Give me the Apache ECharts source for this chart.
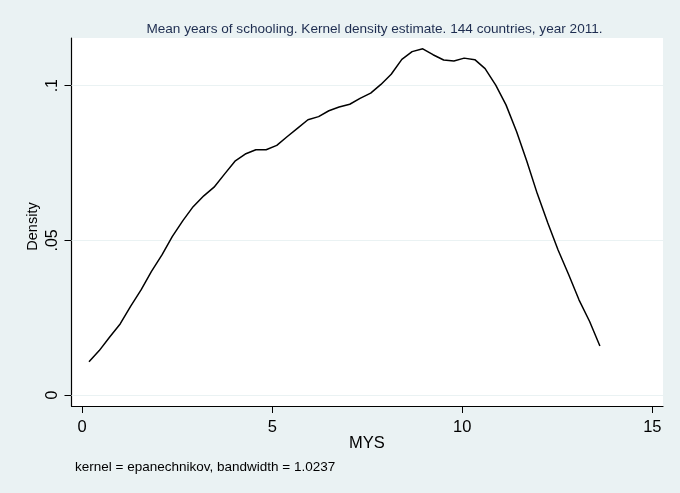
<!DOCTYPE html>
<html>
<head>
<meta charset="utf-8">
<script src="https://cdn.jsdelivr.net/npm/echarts@6/dist/echarts.min.js"></script>
<style>
html,body{margin:0;padding:0;background:#EAF2F3;}
#c{width:680px;height:493px;}
</style>
</head>
<body>
<div id="c"></div>
<script>
// Mean years of schooling (MYS) grid points
const mys = [0.18,0.45,0.73,1.00,1.27,1.55,1.82,2.10,2.37,2.65,
             2.92,3.20,3.47,3.75,4.02,4.29,4.57,4.84,5.12,5.39,
             5.67,5.94,6.22,6.49,6.76,7.04,7.31,7.59,7.86,8.13,
             8.41,8.68,8.96,9.23,9.51,9.78,10.05,10.33,10.60,10.88,
             11.15,11.43,11.70,11.97,12.25,12.52,12.80,13.07,13.35,13.62];
// Kernel density estimate
const density = [0.0108,0.0144,0.0189,0.0230,0.0286,0.0340,0.0399,0.0453,0.0512,0.0564,
                 0.0609,0.0644,0.0672,0.0715,0.0756,0.0779,0.0793,0.0793,0.0807,0.0835,
                 0.0863,0.0890,0.0900,0.0919,0.0931,0.0940,0.0959,0.0976,0.1004,0.1037,
                 0.1085,0.1110,0.1119,0.1100,0.1083,0.1080,0.1089,0.1084,0.1055,0.1002,
                 0.0938,0.0851,0.0755,0.0652,0.0556,0.0469,0.0389,0.0308,0.0238,0.0159];
const xTicks = [0, 5, 10, 15];
const yTicks = [0, 0.05, 0.1];
const yTickLabels = ['0', '.05', '.1'];

const titleText = 'Mean years of schooling. Kernel density estimate. 144 countries, year 2011.';
const noteText = 'kernel = epanechnikov, bandwidth = 1.0237';
const xName = 'MYS';
const yName = 'Density';

const font = '"Liberation Sans", Arial, sans-serif';
const chart = echarts.init(document.getElementById('c'), null, {renderer: 'canvas'});
chart.setOption({
  backgroundColor: '#EAF2F3',
  animation: false,
  graphic: [
    {type: 'text', x: 374.5, y: 29, style: {text: titleText, fontFamily: font, fontSize: 13.6,
      fill: '#1E2D50', align: 'center', verticalAlign: 'middle'}},
    {type: 'text', x: 75, y: 467, style: {text: noteText, fontFamily: font, fontSize: 13.5,
      fill: '#000', align: 'left', verticalAlign: 'middle'}},
    {type: 'text', x: 367, y: 443, style: {text: xName, fontFamily: font, fontSize: 16.5,
      fill: '#000', align: 'center', verticalAlign: 'middle'}},
    {type: 'text', x: 33.3, y: 226.5, rotation: Math.PI / 2, style: {text: yName, fontFamily: font, fontSize: 14.5,
      fill: '#000', align: 'center', verticalAlign: 'middle'}}
  ],
  grid: {left: 71.5, right: 17, top: 38, bottom: 87, show: true, backgroundColor: '#fff', borderWidth: 0},
  xAxis: {
    type: 'value', min: -0.28, max: 15.28,
    axisLine: {show: true, onZero: false, lineStyle: {color: '#000', width: 1.2}},
    axisTick: {show: true, customValues: xTicks, length: 7, lineStyle: {color: '#000', width: 1}},
    axisLabel: {customValues: xTicks, fontFamily: font, fontSize: 16.5, color: '#000', margin: 13},
    splitLine: {show: false}
  },
  yAxis: {
    type: 'value', min: -0.0035, max: 0.1154,
    axisLine: {show: true, onZero: false, lineStyle: {color: '#000', width: 1.2}},
    axisTick: {show: true, customValues: yTicks, length: 7, lineStyle: {color: '#000', width: 1}},
    axisLabel: {customValues: yTicks, rotate: 90, fontFamily: font, fontSize: 16, color: '#000', margin: 11,
      formatter: function (v) { const i = yTicks.findIndex(t => Math.abs(t - v) < 1e-9); return i >= 0 ? yTickLabels[i] : ''; }},
    splitLine: {show: false}
  },
  series: [{
    type: 'line',
    data: mys.map((x, i) => [x, density[i]]),
    showSymbol: false,
    lineStyle: {color: '#000', width: 1.5},
    z: 3,
    markLine: {
      silent: true, symbol: 'none', label: {show: false}, z: 1,
      lineStyle: {color: '#EAF2F3', width: 1.2, type: 'solid'},
      data: yTicks.map(v => ({yAxis: v}))
    }
  }]
});
</script>
</body>
</html>
